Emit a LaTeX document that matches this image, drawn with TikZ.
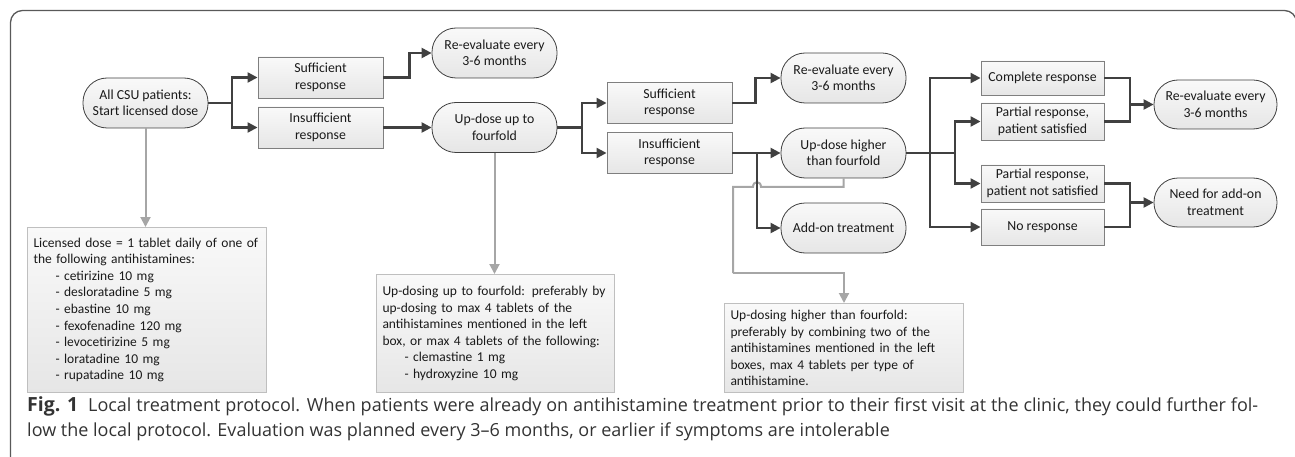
\documentclass[tikz,border=0pt]{standalone}
\usepackage{fontspec}
\setmainfont{Carlito}
\newfontfamily\capfont{Open Sans}
\usetikzlibrary{arrows.meta,calc}
\definecolor{darkline}{HTML}{404040}
\definecolor{grayline}{HTML}{A6A6A6}
\definecolor{pillborder}{HTML}{404040}
\definecolor{rectborder}{HTML}{7F7F7F}
\definecolor{noteborder}{HTML}{BFBFBF}
\definecolor{txt}{HTML}{1A1A1A}
\definecolor{fillA}{HTML}{F9F9F9}
\definecolor{fillB}{HTML}{E6E6E6}
\definecolor{framec}{HTML}{595959}
\definecolor{capc}{HTML}{333333}
\tikzset{
  base/.style={font=\fontsize{13.8}{16.5}\selectfont, text=txt, align=center, inner sep=2pt},
  pill/.style={base, draw=pillborder, line width=0.8pt, rounded corners=24pt,
    minimum width=125pt, minimum height=50pt, top color=fillA, bottom color=fillB},
  resp/.style={base, draw=rectborder, line width=0.9pt,
    minimum width=125pt, minimum height=41pt, top color=fillA, bottom color=fillB},
  note/.style={font=\fontsize{13.5}{16.6}\selectfont, text=txt, align=left,
    draw=noteborder, line width=1pt, top color=fillA, bottom color=fillB,
    anchor=north west, inner xsep=6pt, inner ysep=4pt},
  dk/.style={draw=darkline, line width=2.2pt},
  dka/.style={dk, -{Triangle[length=10pt,width=10pt]}},
  gy/.style={draw=grayline, line width=2pt},
  gya/.style={gy, -{Triangle[length=10pt,width=10pt]}},
  framest/.style={draw=framec, line width=1.3pt, rounded corners=12pt},
  captxt/.style={font=\capfont\fontsize{18}{25}\selectfont, text=capc, inner sep=0pt, anchor=base west},
  capbold/.style={font=\capfont\bfseries\fontsize{19.5}{25}\selectfont, text=capc, inner sep=0pt, anchor=base west}
}
\begin{document}
\begin{tikzpicture}[x=1pt,y=-1pt]
\useasboundingbox (0,0) rectangle (1295,457);
% frame
\draw[framest] (10.5,470) -- (10.5,10.5) -- (1296.5,10.5) -- (1296.5,470);

% nodes
\node[pill] (csu) at (145.5,103) {All CSU patients:\\Start licensed dose};
\node[resp] (suf1) at (320.5,77.5) {Sufficient\\response};
\node[resp] (ins1) at (320.5,127.5) {Insufficient\\response};
\node[pill] (re1) at (494.5,53) {Re-evaluate every\\3-6 months};
\node[pill] (up4) at (494.5,127.5) {Up-dose up to\\fourfold};
\node[resp] (suf2) at (669.5,103) {Sufficient\\response};
\node[resp] (ins2) at (669.5,153) {Insufficient\\response};
\node[pill] (re2) at (843.5,78) {Re-evaluate every\\3-6 months};
\node[pill] (uph) at (843.5,153) {Up-dose higher\\than fourfold};
\node[pill] (add) at (843.5,228) {Add-on treatment};
\node[resp, minimum width=123pt, minimum height=34pt] (comp) at (1042.5,78) {Complete response};
\node[resp, minimum width=123pt, minimum height=37pt] (psat) at (1042.5,121.5) {Partial response,\\patient satisfied};
\node[resp, minimum width=123pt, minimum height=37pt] (pnot) at (1042.5,183.5) {Partial response,\\patient not satisfied};
\node[resp, minimum width=123pt, minimum height=36pt] (nores) at (1042.5,227) {No response};
\node[pill, minimum width=123pt, minimum height=49pt] (re3) at (1215.5,104.5) {Re-evaluate every\\3-6 months};
\node[pill, minimum width=123pt, minimum height=49pt] (need) at (1215.5,202.5) {Need for add-on\\treatment};

% notes
\node[note, text width=227pt, minimum height=165pt] (lic) at (27,227) {Licensed dose = 1 tablet daily of one of\\
the following antihistamines:\\
\hspace*{22pt}- cetirizine 10 mg\\
\hspace*{22pt}- desloratadine 5 mg\\
\hspace*{22pt}- ebastine 10 mg\\
\hspace*{22pt}- fexofenadine 120 mg\\
\hspace*{22pt}- levocetirizine 5 mg\\
\hspace*{22pt}- loratadine 10 mg\\
\hspace*{22pt}- rupatadine 10 mg};
\node[note, text width=226pt, minimum height=118pt] (ud4) at (376,274) {Up-dosing up to fourfold: preferably by\\
up-dosing to max 4 tablets of the\\
antihistamines mentioned in the left\\
box, or max 4 tablets of the following:\\
\hspace*{22pt}- clemastine 1 mg\\
\hspace*{22pt}- hydroxyzine 10 mg};
\node[note, text width=227pt, minimum height=89pt] (udh) at (724,303) {Up-dosing higher than fourfold:\\
preferably by combining two of the\\
antihistamines mentioned in the left\\
boxes, max 4 tablets per type of\\
antihistamine.};

% junctions
\coordinate (j1) at (232,103);
\coordinate (j2) at (582,127.5);
\coordinate (j3) at (757,153);
\coordinate (j4) at (930,153);
\coordinate (j5) at (955,153);
\coordinate (j6) at (1130,104.5);
\coordinate (j7) at (1130,202.5);
\coordinate (h1) at (761,187);
\coordinate (h2) at (753,187);

% gray connectors (below dark ones)
\draw[gya] (csu.south) -- (csu.south |- lic.north);
\draw[gya] (up4.south) -- (up4.south |- ud4.north);
\draw[gy] (uph.south) |- (h1) .. controls (761,180.5) and (753,180.5) .. (h2) -- (733,187) -- (733,273);
\draw[gya] (733,273) -| (udh.north);

% dark connectors
\draw[dk] (csu.east) -- (j1);
\draw[dka] (j1) |- (suf1.west);
\draw[dka] (j1) |- (ins1.west);
\draw[dka] (suf1.east) -- ++(26,0) |- (re1.west);
\draw[dka] (ins1.east) -- (up4.west);
\draw[dk] (up4.east) -- (j2);
\draw[dka] (j2) |- (suf2.west);
\draw[dka] (j2) |- (ins2.west);
\draw[dka] (suf2.east) -- ++(23,0) |- (re2.west);
\draw[dka] (ins2.east) -- (uph.west);
\draw[dka] (j3) |- (add.west);
\draw[dk] (uph.east) -- (j5);
\draw[dka] (j4) |- (comp.west);
\draw[dka] (j4) |- (nores.west);
\draw[dka] (j5) |- (psat.west);
\draw[dka] (j5) |- (pnot.west);
\draw[dk] (comp.east) -| (j6);
\draw[dk] (psat.east) -| (j6);
\draw[dka] (j6) -- (re3.west);
\draw[dk] (pnot.east) -| (j7);
\draw[dk] (nores.east) -| (j7);
\draw[dka] (j7) -- (need.west);

% caption
\node[capbold] (figlab) at (27,411.5) {Fig. 1};
\node[captxt] (cap1) at (88,411.5) {\makebox[1170pt][s]{Local treatment protocol. When patients were already on antihistamine treatment prior to their first visit at the clinic, they could further fol-}};
\node[captxt] (cap2) at (27,436.5) {low the local protocol. Evaluation was planned every 3–6 months, or earlier if symptoms are intolerable};
\end{tikzpicture}
\end{document}
